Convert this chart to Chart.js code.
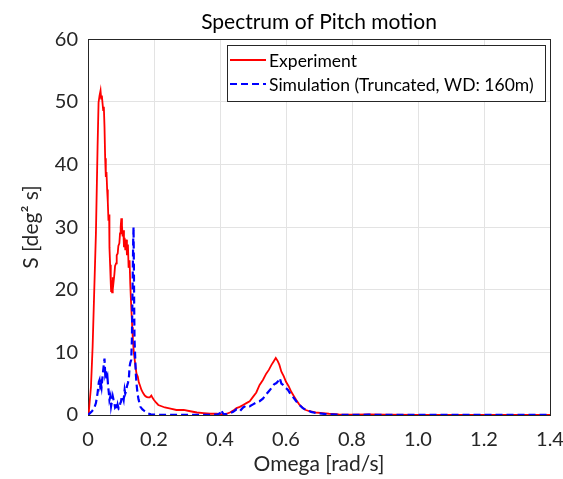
<!DOCTYPE html>
<html>
<head>
<meta charset="utf-8">
<script src="https://cdn.jsdelivr.net/npm/chart.js@4.4.0/dist/chart.umd.min.js"></script>
<style>
  html, body { margin: 0; padding: 0; background: #fff; }
  #wrap { width: 563px; height: 479px; }
</style>
</head>
<body>
<div id="wrap"><canvas id="grafico" width="563" height="479"></canvas></div>
<script>
// valores (omega em rad/s, S em deg^2 s)
const expOmega = [0, 0.003, 0.009, 0.014, 0.019, 0.024, 0.029, 0.032, 0.035, 0.038, 0.040, 0.042, 0.044, 0.046, 0.048, 0.050, 0.052, 0.054, 0.056, 0.058, 0.060, 0.062, 0.064, 0.065, 0.067, 0.069, 0.070, 0.072, 0.073, 0.075, 0.077, 0.080, 0.082, 0.085, 0.087, 0.090, 0.092, 0.095, 0.097, 0.099, 0.101, 0.103, 0.105, 0.107, 0.109, 0.111, 0.113, 0.116, 0.118, 0.121, 0.123, 0.126, 0.128, 0.131, 0.134, 0.136, 0.139, 0.142, 0.144, 0.147, 0.151, 0.154, 0.157, 0.162, 0.167, 0.172, 0.177, 0.182, 0.187, 0.192, 0.196, 0.200, 0.206, 0.213, 0.223, 0.233, 0.25, 0.268, 0.29, 0.31, 0.33, 0.35, 0.37, 0.39, 0.41, 0.42, 0.43, 0.44, 0.45, 0.46, 0.47, 0.48, 0.49, 0.50, 0.51, 0.52, 0.53, 0.54, 0.548, 0.556, 0.562, 0.569, 0.575, 0.58, 0.586, 0.593, 0.60, 0.608, 0.616, 0.624, 0.631, 0.64, 0.651, 0.66, 0.671, 0.69, 0.711, 0.73, 0.76, 0.8, 0.85, 0.9, 1.0, 1.1, 1.2, 1.3, 1.4];
const expS = [0, 0.8, 4.5, 10.9, 20, 29, 42.8, 49.9, 51, 51.8, 50.5, 51, 49.8, 48.7, 49.2, 46, 41, 38, 38.8, 36, 34, 31, 32, 26.8, 24, 21, 19.8, 21.5, 19.6, 22, 21, 22.5, 23.8, 24.2, 25.5, 25.8, 27, 27.4, 29, 30, 31.4, 30.2, 28.5, 29.5, 26.8, 28.3, 26.3, 28, 25.5, 27.2, 23.5, 24.7, 21, 17.3, 14, 12, 9.9, 8.6, 7.7, 6.6, 6.1, 5.2, 4.8, 4, 3.5, 3.1, 2.9, 2.8, 2.8, 3.1, 2.7, 2.4, 2.0, 1.6, 1.4, 1.2, 1.0, 0.8, 0.8, 0.6, 0.4, 0.3, 0.2, 0.2, 0.1, 0.2, 0.4, 0.7, 1.1, 1.3, 1.6, 1.9, 2.2, 2.9, 3.6, 4.8, 5.6, 6.6, 7.2, 8.0, 8.5, 9.1, 8.6, 8.0, 6.9, 6.2, 5.3, 4.6, 3.7, 3.0, 2.4, 1.7, 1.1, 0.8, 0.6, 0.4, 0.3, 0.2, 0.1, 0.05, 0.1, 0.05, 0.02, 0.02, 0.01, 0.01, 0.01];

const simOmega = [0, 0.006, 0.012, 0.018, 0.024, 0.029, 0.033, 0.035, 0.037, 0.039, 0.041, 0.044, 0.047, 0.050, 0.052, 0.054, 0.057, 0.059, 0.061, 0.063, 0.065, 0.068, 0.070, 0.072, 0.075, 0.077, 0.080, 0.082, 0.085, 0.088, 0.090, 0.093, 0.095, 0.098, 0.100, 0.102, 0.105, 0.108, 0.111, 0.113, 0.115, 0.118, 0.121, 0.124, 0.126, 0.128, 0.131, 0.133, 0.135, 0.137, 0.138, 0.139, 0.140, 0.141, 0.143, 0.145, 0.147, 0.150, 0.153, 0.159, 0.165, 0.172, 0.18, 0.19, 0.2, 0.25, 0.3, 0.35, 0.39, 0.40, 0.403, 0.41, 0.42, 0.43, 0.44, 0.45, 0.46, 0.47, 0.48, 0.49, 0.50, 0.51, 0.52, 0.53, 0.54, 0.548, 0.556, 0.564, 0.571, 0.576, 0.581, 0.586, 0.591, 0.598, 0.606, 0.613, 0.621, 0.631, 0.641, 0.651, 0.661, 0.676, 0.691, 0.72, 0.76, 0.8, 0.85, 0.9, 1.0, 1.2, 1.4];
const simS = [0, 0.3, 0.6, 1.0, 1.9, 3.5, 5.3, 5.6, 4.6, 5.0, 4.4, 6.1, 7.6, 9.0, 6.7, 7.2, 5.6, 6.0, 4.6, 3.6, 2.4, 3.0, 1.4, 2.0, 3.0, 2.5, 1.9, 1.2, 1.4, 0.8, 1.6, 1.0, 1.1, 1.9, 2.1, 2.9, 3.0, 2.4, 4.0, 3.4, 3.7, 4.6, 5.1, 6.0, 7.7, 8.3, 8.8, 12, 20, 28, 30, 24, 17, 12, 9.3, 6.5, 5.0, 3.5, 2.5, 1.3, 0.9, 0.6, 0.3, 0.1, 0.05, 0.02, 0.02, 0.02, 0.05, 0.3, 0.8, 0.2, 0.1, 0.3, 0.5, 0.9, 0.6, 1.2, 1.5, 1.4, 1.7, 2.0, 2.2, 2.6, 3.3, 3.8, 4.3, 4.9, 5.1, 5.4, 5.9, 5.0, 4.8, 4.4, 4.0, 3.4, 2.9, 2.2, 1.6, 1.1, 0.8, 0.5, 0.3, 0.15, 0.05, 0.02, 0.05, 0.02, 0.01, 0.01, 0.01];

const seriesLabels = ["Experiment", "Simulation (Truncated, WD: 160m)"];
const xTicks = [0, 0.2, 0.4, 0.6, 0.8, 1, 1.2, 1.4];
const yTicks = [0, 10, 20, 30, 40, 50, 60];

const FONTE = "Lato, 'Open Sans', sans-serif";

function pontos(xs, ys) {
  return xs.map((x, i) => ({ x: x, y: ys[i] }));
}

// legenda desenhada dentro da área do gráfico (como no MATLAB)
const legendaDentro = {
  id: 'legendaDentro',
  afterDraw(chart) {
    const ctx = chart.ctx;
    const box = { x: 227.5, y: 45.5, w: 318, h: 56 };
    ctx.save();
    ctx.fillStyle = '#fff';
    ctx.fillRect(box.x, box.y, box.w, box.h);
    ctx.strokeStyle = '#262626';
    ctx.lineWidth = 1;
    ctx.strokeRect(box.x, box.y, box.w, box.h);
    ctx.font = "17.5px " + FONTE;
    ctx.textBaseline = 'middle';
    ctx.textAlign = 'left';
    chart.data.datasets.forEach((ds, i) => {
      const y = 60 + i * 24;
      ctx.strokeStyle = ds.borderColor;
      ctx.lineWidth = ds.borderWidth;
      ctx.setLineDash(ds.borderDash || []);
      ctx.beginPath();
      ctx.moveTo(230, y);
      ctx.lineTo(266, y);
      ctx.stroke();
      ctx.setLineDash([]);
      ctx.fillStyle = '#000';
      ctx.fillText(ds.label, 269, y + 1);
    });
    ctx.restore();
  }
};

// moldura completa em volta da área de plotagem
const moldura = {
  id: 'moldura',
  beforeDatasetsDraw(chart) {
    const a = chart.chartArea;
    const ctx = chart.ctx;
    ctx.save();
    ctx.strokeStyle = '#262626';
    ctx.lineWidth = 1;
    ctx.strokeRect(Math.round(a.left) + 0.5, Math.round(a.top) + 0.5, Math.round(a.right - a.left), Math.round(a.bottom - a.top));
    ctx.restore();
  }
};

const ctx = document.getElementById("grafico");
new Chart(ctx, {
  type: "line",
  data: {
    datasets: [
      {
        label: seriesLabels[0],
        data: pontos(expOmega, expS),
        borderColor: "#ff0000",
        borderWidth: 1.8,
        pointRadius: 0,
        tension: 0,
        order: 2
      },
      {
        label: seriesLabels[1],
        data: pontos(simOmega, simS),
        borderColor: "#0000ff",
        borderWidth: 2.2,
        borderDash: [7, 4],
        pointRadius: 0,
        tension: 0,
        order: 1
      }
    ]
  },
  options: {
    responsive: false,
    animation: false,
    events: [],
    layout: { padding: { left: 0, right: 13, top: 0, bottom: 0 } },
    plugins: {
      legend: { display: false },
      tooltip: { enabled: false },
      title: {
        display: true,
        text: "Spectrum of Pitch motion",
        fullSize: false,
        color: "#000",
        font: { family: FONTE, size: 21, weight: 'normal' },
        padding: { top: 10, bottom: 4 }
      }
    },
    scales: {
      x: {
        type: "linear",
        min: 0,
        max: 1.4,
        afterBuildTicks: s => { s.ticks = xTicks.map(v => ({ value: v })); },
        afterFit: s => { s.height = 64; s.paddingLeft = 0; s.paddingRight = 0; },
        grid: { color: "#e3e3e3", drawTicks: false },
        border: { color: "#262626" },
        ticks: { color: "#262626", padding: 13, font: { family: FONTE, size: 20 } },
        title: {
          display: true,
          text: "Omega [rad/s]",
          color: "#262626",
          font: { family: FONTE, size: 21 },
          padding: { top: 0, bottom: 2 }
        }
      },
      y: {
        min: 0,
        max: 60,
        afterBuildTicks: s => { s.ticks = yTicks.map(v => ({ value: v })); },
        afterFit: s => { s.width = 88; s.paddingTop = 0; s.paddingBottom = 0; },
        grid: { color: "#e3e3e3", drawTicks: false },
        border: { color: "#262626" },
        ticks: { color: "#262626", padding: 10, font: { family: FONTE, size: 20 } },
        title: {
          display: true,
          text: "S [deg\u00B2 s]",
          color: "#262626",
          font: { family: FONTE, size: 21 },
          padding: { top: 19, bottom: 0 }
        }
      }
    }
  },
  plugins: [moldura, legendaDentro]
});
</script>
</body>
</html>
